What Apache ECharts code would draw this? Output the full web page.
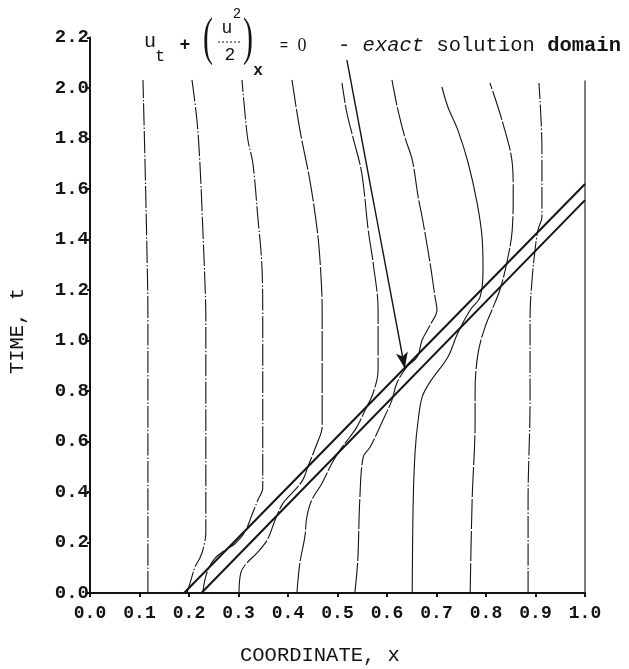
<!DOCTYPE html>
<html>
<head>
<meta charset="utf-8">
<script src="https://cdn.jsdelivr.net/npm/echarts@6/dist/echarts.min.js"></script>
<style>
  html, body { margin: 0; padding: 0; background: #ffffff; }
  #chart { width: 629px; height: 669px; }
</style>
</head>
<body>
<div id="chart"></div>
<script>
// Axis ranges (coordinate x, time t)
const xRange = [0.0, 1.0, 0.1];
const tRange = [0.0, 2.2, 0.2];

// Solution curves in the x–t plane, each listed as [x, t] from t = 0 upward
const curve01 = [[0.117,0],[0.117,0.566],[0.117,1.093],[0.115,1.358],[0.111,1.715],[0.107,2.032]];
const curve02 = [[0.196,0],[0.204,0.051],[0.212,0.103],[0.222,0.139],[0.228,0.170],[0.234,0.238],[0.234,0.566],[0.234,1.093],[0.232,1.240],[0.228,1.438],[0.222,1.703],[0.216,1.873],[0.206,2.032]];
const curve03 = [[0.228,0],[0.232,0.051],[0.240,0.099],[0.253,0.139],[0.273,0.170],[0.293,0.195],[0.313,0.242],[0.327,0.309],[0.339,0.368],[0.349,0.416],[0.349,0.764],[0.349,1.093],[0.347,1.307],[0.339,1.489],[0.329,1.703],[0.319,1.794],[0.313,1.901],[0.307,2.032]];
const curve04 = [[0.301,0],[0.305,0.083],[0.317,0.119],[0.337,0.158],[0.358,0.210],[0.374,0.289],[0.390,0.356],[0.414,0.408],[0.430,0.448],[0.440,0.499],[0.459,0.594],[0.469,0.657],[0.469,0.844],[0.469,1.121],[0.465,1.307],[0.459,1.438],[0.444,1.636],[0.424,1.834],[0.408,2.032]];
const curve05 = [[0.418,0],[0.424,0.119],[0.434,0.222],[0.438,0.301],[0.448,0.368],[0.469,0.436],[0.489,0.515],[0.505,0.566],[0.525,0.618],[0.539,0.657],[0.556,0.725],[0.572,0.792],[0.582,0.883],[0.582,1.121],[0.572,1.307],[0.562,1.438],[0.549,1.663],[0.531,1.806],[0.519,1.901],[0.509,2.020]];
const curve06 = [[0.535,0],[0.541,0.131],[0.545,0.368],[0.552,0.539],[0.566,0.578],[0.592,0.685],[0.610,0.764],[0.620,0.832],[0.640,0.895],[0.661,0.935],[0.671,1.002],[0.687,1.061],[0.701,1.121],[0.697,1.172],[0.687,1.307],[0.671,1.489],[0.663,1.568],[0.651,1.715],[0.636,1.806],[0.622,1.913],[0.610,2.032]];
const curve07 = [[0.651,0],[0.653,0.368],[0.657,0.566],[0.663,0.685],[0.671,0.776],[0.687,0.836],[0.723,0.935],[0.743,1.030],[0.768,1.121],[0.788,1.172],[0.794,1.279],[0.792,1.410],[0.782,1.545],[0.764,1.703],[0.743,1.834],[0.723,1.925],[0.711,2.004]];
const curve08 = [[0.768,0],[0.772,0.368],[0.778,0.685],[0.778,0.804],[0.784,0.950],[0.798,1.053],[0.812,1.121],[0.828,1.200],[0.842,1.307],[0.853,1.438],[0.855,1.596],[0.853,1.703],[0.834,1.861],[0.808,2.020]];
const curve09 = [[0.885,0],[0.885,0.368],[0.889,0.764],[0.889,1.093],[0.893,1.240],[0.899,1.358],[0.905,1.438],[0.913,1.489],[0.913,1.754],[0.907,2.020]];
const curve10 = [[1.0,0],[1.0,2.030]];

// Edges of the exact solution domain
const domainUpper = [[0.19,0],[1.0,1.62]];
const domainLower = [[0.225,0],[1.0,1.556]];

// Pointer from the caption to the domain
const pointerFrom = [0.519, 2.11];
const pointerTo = [0.636, 0.89];

const curves = [curve01, curve02, curve03, curve04, curve05, curve06, curve07, curve08, curve09, curve10];
const DASHDOT = [22, 2, 1.5, 2];
const DASHED = [30, 2];
const curveDash = [DASHDOT, DASHDOT, DASHDOT, DASHED, DASHED, DASHED, 'solid', DASHED, DASHDOT, 'solid'];

const INK = '#141414';
const MONO = "'Liberation Mono', 'DejaVu Sans Mono', monospace";

const series = curves.map((c, i) => ({
  type: 'line',
  data: c,
  showSymbol: false,
  smooth: 0.35,
  clip: false,
  silent: true,
  lineStyle: { color: INK, width: 1.1, type: curveDash[i] }
}));

[domainUpper, domainLower].forEach(d => series.push({
  type: 'line',
  data: d,
  showSymbol: false,
  clip: false,
  silent: true,
  lineStyle: { color: INK, width: 2 }
}));

series.push({
  type: 'line',
  data: [],
  silent: true,
  markLine: {
    silent: true,
    animation: false,
    symbol: ['none', 'arrow'],
    symbolSize: [9, 16],
    label: { show: false },
    lineStyle: { color: INK, width: 1.4, type: 'solid' },
    data: [[{ coord: pointerFrom }, { coord: pointerTo }]]
  }
});

const fmt = v => v.toFixed(1);

const option = {
  backgroundColor: '#ffffff',
  animation: false,
  grid: { left: 90, right: 44, top: 37.5, bottom: 76, outerBoundsMode: 'none' },
  xAxis: {
    type: 'value',
    min: xRange[0], max: xRange[1], interval: xRange[2],
    axisLine: { show: true, onZero: false, lineStyle: { color: INK, width: 2 } },
    axisTick: { show: true, length: 4, lineStyle: { color: INK, width: 2 } },
    axisLabel: { margin: 11, color: INK, fontFamily: MONO, fontSize: 18, fontWeight: 'bold', formatter: fmt },
    splitLine: { show: false }
  },
  yAxis: {
    type: 'value',
    min: tRange[0], max: tRange[1], interval: tRange[2],
    axisLine: { show: true, onZero: false, lineStyle: { color: INK, width: 2 } },
    axisTick: { show: true, length: 3, lineStyle: { color: INK, width: 2 } },
    axisLabel: { margin: 1, color: INK, fontFamily: MONO, fontSize: 19, fontWeight: 'bold', formatter: fmt },
    splitLine: { show: false }
  },
  graphic: [
    // axis titles
    { type: 'text', left: 240, top: 645, style: { text: 'COORDINATE, x', font: "20.5px " + MONO, fill: INK } },
    { type: 'text', x: 18, y: 331, rotation: Math.PI / 2,
      style: { text: 'TIME, t', font: "20.5px " + MONO, fill: INK, align: 'center', verticalAlign: 'middle' } },
    // equation u_t + (u^2/2)_x = 0
    { type: 'text', x: 150, y: 42, style: { text: 'u', font: "20px " + MONO, fill: INK, align: 'center', verticalAlign: 'middle' } },
    { type: 'text', x: 160, y: 56, style: { text: 't', font: "17px " + MONO, fill: INK, align: 'center', verticalAlign: 'middle' } },
    { type: 'text', x: 185, y: 45, style: { text: '+', font: "bold 18px " + MONO, fill: INK, align: 'center', verticalAlign: 'middle' } },
    { type: 'text', x: 208, y: 40, scaleY: 1.75, style: { text: '(', font: "30px 'Liberation Serif', serif", fill: INK, align: 'center', verticalAlign: 'middle' } },
    { type: 'text', x: 227, y: 28, style: { text: 'u', font: "18px " + MONO, fill: INK, align: 'center', verticalAlign: 'middle' } },
    { type: 'text', x: 237, y: 14, style: { text: '2', font: "14px " + MONO, fill: INK, align: 'center', verticalAlign: 'middle' } },
    { type: 'line', shape: { x1: 218, y1: 42, x2: 242, y2: 42 }, style: { stroke: INK, lineWidth: 1, lineDash: [2, 2] } },
    { type: 'text', x: 230, y: 55, style: { text: '2', font: "18px " + MONO, fill: INK, align: 'center', verticalAlign: 'middle' } },
    { type: 'text', x: 248, y: 40, scaleY: 1.75, style: { text: ')', font: "30px 'Liberation Serif', serif", fill: INK, align: 'center', verticalAlign: 'middle' } },
    { type: 'text', x: 258, y: 71, style: { text: 'x', font: "bold 16px " + MONO, fill: INK, align: 'center', verticalAlign: 'middle' } },
    { type: 'text', x: 284, y: 46, style: { text: '=', font: "14px " + MONO, fill: INK, align: 'center', verticalAlign: 'middle' } },
    { type: 'text', x: 302, y: 46, style: { text: '0', font: "18px 'Liberation Serif', serif", fill: INK, align: 'center', verticalAlign: 'middle' } },
    // caption
    { type: 'text', x: 338, y: 46, style: {
        text: '- {i|exact} solution {b|domain}',
        font: "20.5px " + MONO, fill: INK, align: 'left', verticalAlign: 'middle',
        rich: {
          i: { fontFamily: MONO, fontSize: 20.5, fontStyle: 'italic', fill: INK },
          b: { fontFamily: MONO, fontSize: 20.5, fontWeight: 'bold', fill: INK }
        }
      } }
  ],
  series: series
};

const chart = echarts.init(document.getElementById('chart'), null, { renderer: 'canvas' });
chart.setOption(option);
</script>
</body>
</html>
